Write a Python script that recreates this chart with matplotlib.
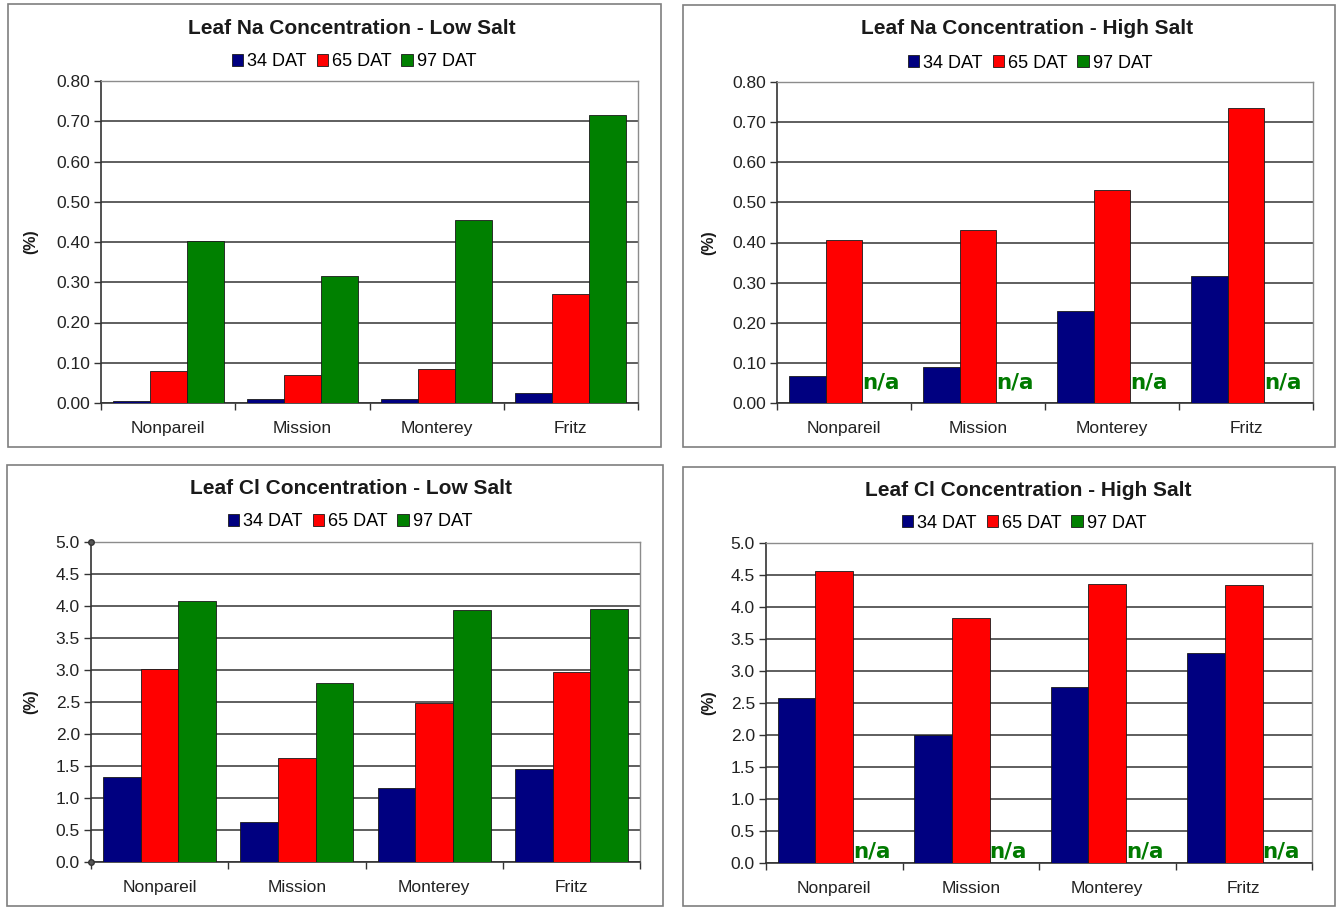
import numpy as np
import matplotlib
matplotlib.use("Agg")
import matplotlib.pyplot as plt
from matplotlib.patches import Rectangle
from matplotlib.ticker import FixedLocator, FormatStrFormatter

plt.rcParams['font.family'] = ['Liberation Sans', 'DejaVu Sans']

cultivars = ["Nonpareil", "Mission", "Monterey", "Fritz"]
series_names = ["34 DAT", "65 DAT", "97 DAT"]
series_colors = ["#000080", "#FF0000", "#008000"]

na_low_34 = [0.005, 0.010, 0.010, 0.025]
na_low_65 = [0.080, 0.070, 0.085, 0.270]
na_low_97 = [0.402, 0.315, 0.455, 0.715]

na_high_34 = [0.067, 0.090, 0.230, 0.317]
na_high_65 = [0.405, 0.430, 0.530, 0.735]
na_high_97 = [None, None, None, None]

cl_low_34 = [1.33, 0.63, 1.15, 1.45]
cl_low_65 = [3.02, 1.63, 2.49, 2.97]
cl_low_97 = [4.08, 2.79, 3.94, 3.96]

cl_high_34 = [2.58, 2.00, 2.75, 3.28]
cl_high_65 = [4.57, 3.83, 4.36, 4.35]
cl_high_97 = [None, None, None, None]

W, H = 1342, 907
fig = plt.figure(figsize=(W / 100, H / 100), dpi=100)
fig.patch.set_facecolor("white")


def fx(x):
    return x / W


def fy(y):
    return 1 - y / H


def panel(box, plot, title, title_xy, legend_xy, ylabel_x, series, ymax, ystep, fmt,
          na_offset=0.0, axis_handles=False):
    # chart border
    bx0, by0, bx1, by1 = box
    fig.add_artist(Rectangle((fx(bx0), fy(by1)), fx(bx1 - bx0), (by1 - by0) / H,
                             transform=fig.transFigure, fill=False,
                             edgecolor="#7f7f7f", linewidth=1.2))
    l, t, r, b = plot
    ax = fig.add_axes([fx(l), fy(b), fx(r - l), (b - t) / H])
    x = np.arange(len(cultivars))
    bw = 0.275
    handles = []
    for i, (vals, name, col) in enumerate(zip(series, series_names, series_colors)):
        xs = x + (i - 1) * bw
        arr = np.array([np.nan if v is None else v for v in vals], dtype=float)
        h = ax.bar(xs, np.nan_to_num(arr), width=bw, color=col, edgecolor="#1a1a1a",
                   linewidth=0.6, label=name, zorder=3)
        handles.append(h)
        # missing values are marked with a label in place of the bar
        for xi, v in zip(xs, vals):
            if v is None:
                ax.text(xi, na_offset, "n/a", color="#007a00", fontsize=15.5,
                        fontweight="bold", family="DejaVu Sans",
                        ha="center", va="baseline", zorder=4)
    ax.set_xlim(-0.5, len(cultivars) - 0.5)
    ax.set_ylim(0, ymax)
    ticks = np.round(np.arange(0, ymax + ystep / 2, ystep), 3)
    ax.set_yticks(ticks)
    ax.yaxis.set_major_formatter(FormatStrFormatter(fmt))
    ax.yaxis.grid(True, color="#333333", linewidth=1.1, zorder=0)
    ax.set_axisbelow(True)
    ax.set_xticks(x)
    ax.set_xticklabels(cultivars, fontsize=12.5, color="#222222")
    ax.xaxis.set_minor_locator(FixedLocator(np.arange(-0.5, len(cultivars), 1.0)))
    ax.tick_params(axis="x", which="major", length=0, pad=13)
    ax.tick_params(axis="x", which="minor", length=5, width=1, color="#333333", direction="out")
    ax.tick_params(axis="y", length=5, width=1, color="#333333", labelsize=12.5,
                   labelcolor="#222222", pad=3)
    for s in ["left", "bottom"]:
        ax.spines[s].set_color("#333333")
        ax.spines[s].set_linewidth(1.2)
    for s in ["top", "right"]:
        ax.spines[s].set_color("#8c8c8c")
        ax.spines[s].set_linewidth(1.0)
    if axis_handles:
        # small selection handles at both ends of the value axis
        ax.plot([-0.5, -0.5], [0, ymax], linestyle="none", marker="o", markersize=4,
                markerfacecolor="#555555", markeredgecolor="#333333", clip_on=False, zorder=5)
    fig.text(fx(title_xy[0]), fy(title_xy[1]), title, ha="center", va="center",
             fontsize=15, fontweight="bold", color="#1a1a1a")
    fig.text(fx(ylabel_x), fy((t + b) / 2), "(%)", rotation=90, ha="center", va="center",
             fontsize=11.5, fontweight="bold", color="#1a1a1a")
    fig.legend(handles, series_names, loc="center",
               bbox_to_anchor=(fx(legend_xy[0]), fy(legend_xy[1])), ncol=3, frameon=False,
               fontsize=13, handlelength=0.65, handleheight=0.65, handletextpad=0.2,
               columnspacing=0.55, borderpad=0)
    return ax


panel((8, 4, 661, 447), (101, 81, 638, 403), "Leaf Na Concentration - Low Salt",
      (352, 29), (354, 62), 31, [na_low_34, na_low_65, na_low_97], 0.80, 0.10, "%.2f")
panel((683, 5, 1335, 447), (777, 82, 1313, 403), "Leaf Na Concentration - High Salt",
      (1027, 29), (1030, 63), 709, [na_high_34, na_high_65, na_high_97], 0.80, 0.10, "%.2f",
      na_offset=0.035)
panel((7, 465, 663, 906), (91, 542, 640, 862), "Leaf Cl Concentration - Low Salt",
      (351, 489), (350, 522), 31, [cl_low_34, cl_low_65, cl_low_97], 5.0, 0.5, "%.1f",
      axis_handles=True)
panel((683, 467, 1335, 906), (766, 543, 1312, 863), "Leaf Cl Concentration - High Salt",
      (1028, 490), (1024, 523), 709, [cl_high_34, cl_high_65, cl_high_97], 5.0, 0.5, "%.1f",
      na_offset=0.085)

fig.savefig("out.png", dpi=100, facecolor="white")
